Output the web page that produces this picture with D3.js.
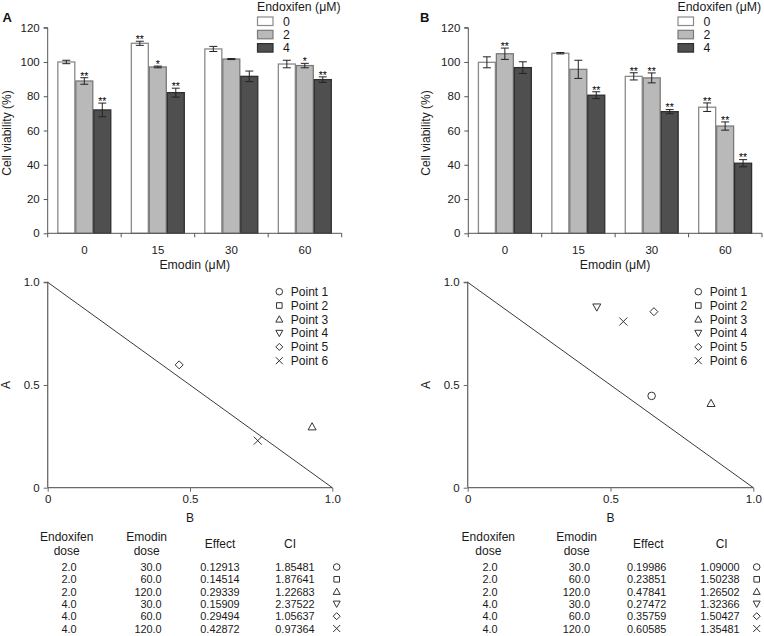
<!DOCTYPE html>
<html><head><meta charset="utf-8">
<script src="https://cdn.jsdelivr.net/npm/d3@7"></script>
<style>
body{margin:0;background:#fff;}
svg{display:block;font-family:"Liberation Sans",Arial,sans-serif;}
</style></head>
<body>
<svg id="c" width="764" height="636"></svg>
<script>
// ---------- data ----------
const groups = ["0", "15", "30", "60"];          // Emodin (μM)
const series = ["0", "2", "4"];                  // Endoxifen (μM)
const yTicks = [0, 20, 40, 60, 80, 100, 120];
const meansA = [[100, 88.9, 72.0], [110.9, 97.1, 82.1], [107.6, 101.7, 91.6], [98.8, 97.9, 89.7]];
const errA   = [[1.0, 1.9, 4.0], [1.2, 0.5, 2.6], [1.5, 0.3, 3.1], [2.2, 1.3, 1.6]];
const starsA = [["", "**", "**"], ["**", "*", "**"], ["", "", ""], ["", "*", "**"]];
const meansB = [[99.8, 104.8, 96.7], [105.1, 95.7, 80.6], [91.6, 90.7, 71.0], [73.6, 62.6, 40.9]];
const errB   = [[3.2, 3.3, 3.4], [0.4, 5.3, 2.0], [2.1, 2.9, 1.2], [2.5, 2.4, 2.1]];
const starsB = [["", "**", ""], ["", "", "**"], ["**", "**", "**"], ["**", "**", "**"]];

const isoTicks = [0, 0.5, 1.0];
const isoTickLabels = ["0", "0.5", "1.0"];
const pointNames = ["Point 1", "Point 2", "Point 3", "Point 4", "Point 5", "Point 6"];
// visible points: [point index, B, A]
const isoA = [[4, 0.462, 0.598], [2, 0.929, 0.297], [5, 0.738, 0.229]];
const isoB = [[3, 0.452, 0.879], [5, 0.545, 0.809], [4, 0.652, 0.857], [0, 0.644, 0.447], [2, 0.852, 0.411]];

const endoDose = ["2.0", "2.0", "2.0", "4.0", "4.0", "4.0"];
const emoDose = ["30.0", "60.0", "120.0", "30.0", "60.0", "120.0"];
const effectA = ["0.12913", "0.14514", "0.29339", "0.15909", "0.29494", "0.42872"];
const ciA = ["1.85481", "1.87641", "1.22683", "2.37522", "1.05637", "0.97364"];
const effectB = ["0.19986", "0.23851", "0.47841", "0.27472", "0.35759", "0.60585"];
const ciB = ["1.09000", "1.50238", "1.26502", "1.32366", "1.50427", "1.35481"];

// ---------- styles ----------
const fills = ["#ffffff", "#b9b9b9", "#4f4f4f"];
const strokes = ["#8a8a8a", "#7a7a7a", "#2e2e2e"];
const axisCol = "#555";
const txt = "#1a1a1a";

const svg = d3.select("#c");

function symbolPath(i, size) {
  const h = size / 2;
  switch (i) {
    case 0: return d3.symbol().type(d3.symbolCircle).size(size * size * 0.7)();
    case 1: return `M${-h*0.8},${-h*0.8}H${h*0.8}V${h*0.8}H${-h*0.8}Z`;
    case 2: return `M0,${-h}L${h},${h*0.8}L${-h},${h*0.8}Z`;
    case 3: return `M0,${h}L${h},${-h*0.8}L${-h},${-h*0.8}Z`;
    case 4: return `M0,${-h}L${h},0L0,${h}L${-h},0Z`;
    case 5: return `M${-h},${-h}L${h},${h}M${h},${-h}L${-h},${h}`;
  }
}

function barPanel(x0, x1, means, errs, stars, letter, letterX, legX, ylabX) {
  const y = d3.scaleLinear().domain([0, 120]).range([233.3, 27.7]);
  const xg = d3.scaleBand().domain(groups).range([x0, x1]).padding(0);
  const bw = xg.bandwidth();
  const xs = d3.scaleBand().domain(series).range([bw * 0.131, bw * 0.865]).padding(0);
  const g = svg.append("g");
  const starG = svg.append("g").attr("opacity", 0.995);

  groups.forEach((gr, gi) => {
    series.forEach((s, si) => {
      const v = means[gi][si], e = errs[gi][si];
      const bx = xg(gr) + xs(s);
      g.append("rect").attr("x", bx + 0.5).attr("y", y(v))
        .attr("width", xs.bandwidth() - 1).attr("height", y(0) - y(v))
        .attr("fill", fills[si]).attr("stroke", strokes[si]).attr("stroke-width", 1.3);
      const cx = bx + xs.bandwidth() / 2;
      const ey1 = y(v + e), ey2 = y(v - e);
      g.append("path").attr("d", `M${cx},${ey1}V${ey2}M${cx-4},${ey1}H${cx+4}M${cx-4},${ey2}H${cx+4}`)
        .attr("stroke", "#222").attr("stroke-width", 1).attr("fill", "none");
      if (stars[gi][si]) {
        starG.append("text").attr("x", cx).attr("y", ey1 + 1.8).attr("text-anchor", "middle")
          .attr("font-size", 10.5).attr("fill", "#000").text(stars[gi][si]);
      }
    });
  });

  const ya = d3.axisLeft(y).tickValues(yTicks).tickSize(4).tickPadding(4);
  const yg = g.append("g").attr("transform", `translate(${x0},0)`).call(ya);
  yg.select(".domain").attr("stroke", axisCol).attr("d", `M-4,${y(120)}H0V${y(0)}`);
  yg.selectAll(".tick line").attr("stroke", axisCol);
  yg.selectAll("text").attr("font-size", 11.5).attr("font-family", "Liberation Sans, Arial").attr("fill", txt);

  g.append("line").attr("x1", x0).attr("x2", x1).attr("y1", y(0)).attr("y2", y(0)).attr("stroke", axisCol);
  const bounds = groups.map(gr => xg(gr)).concat([x1]);
  bounds.forEach(b => g.append("line").attr("x1", b).attr("x2", b).attr("y1", y(0)).attr("y2", y(0) + 4).attr("stroke", axisCol));
  groups.forEach(gr => g.append("text").attr("x", xg(gr) + bw / 2).attr("y", 253.5)
    .attr("text-anchor", "middle").attr("font-size", 11.5).attr("fill", txt).text(gr));
  g.append("text").attr("x", (x0 + x1) / 2).attr("y", 269).attr("text-anchor", "middle")
    .attr("font-size", 12.3).attr("fill", txt).text("Emodin (\u03bcM)");
  g.append("text").attr("transform", `translate(${ylabX},133) rotate(-90)`).attr("text-anchor", "middle")
    .attr("font-size", 12).attr("fill", txt).text("Cell viability (%)");
  g.append("text").attr("x", letterX).attr("y", 22).attr("font-size", 13)
    .attr("font-weight", "bold").attr("fill", "#111").text(letter);

  g.append("text").attr("x", legX).attr("y", 10.5).attr("font-size", 12.3).attr("fill", txt).text("Endoxifen (\u03bcM)");
  series.forEach((s, si) => {
    const ly = 17 + si * 13.3;
    g.append("rect").attr("x", legX + 0.5).attr("y", ly).attr("width", 15.5).attr("height", 8.5)
      .attr("fill", fills[si]).attr("stroke", strokes[si]).attr("stroke-width", 1.2);
    g.append("text").attr("x", legX + 26).attr("y", ly + 8.7).attr("font-size", 12.3).attr("fill", txt).text(s);
  });
}

function isoPanel(x0, x1, pts, ylabX, legX) {
  const x = d3.scaleLinear().domain([0, 1]).range([x0, x1]);
  const y = d3.scaleLinear().domain([0, 1]).range([487.7, 282.3]);
  const g = svg.append("g");
  const xa = d3.axisBottom(x).tickValues(isoTicks).tickFormat((d, i) => isoTickLabels[i]).tickSize(4).tickPadding(3);
  const xgA = g.append("g").attr("transform", `translate(0,${y(0)})`).call(xa);
  const ya = d3.axisLeft(y).tickValues(isoTicks).tickFormat((d, i) => isoTickLabels[i]).tickSize(4).tickPadding(4);
  const ygA = g.append("g").attr("transform", `translate(${x0},0)`).call(ya);
  [xgA, ygA].forEach(a => {
    a.select(".domain").attr("stroke", "#6a6a6a").attr("stroke-width", 1.3);
    a.selectAll(".tick line").attr("stroke", "#6a6a6a");
    a.selectAll("text").attr("font-size", 11.5).attr("font-family", "Liberation Sans, Arial").attr("fill", txt);
  });
  xgA.select(".domain").attr("d", `M${x0},0H${x1}`);
  ygA.select(".domain").attr("d", `M-4,${y(1)}H0V${y(0)}`);
  g.append("line").attr("x1", x(0)).attr("y1", y(1)).attr("x2", x(1)).attr("y2", y(0))
    .attr("stroke", "#222").attr("stroke-width", 0.9);
  pts.forEach(p => {
    g.append("path").attr("transform", `translate(${x(p[1])},${y(p[2])})`).attr("d", symbolPath(p[0], 8))
      .attr("fill", "none").attr("stroke", "#333").attr("stroke-width", 1);
  });
  g.append("text").attr("x", (x0 + x1) / 2).attr("y", 522).attr("text-anchor", "middle")
    .attr("font-size", 12).attr("fill", txt).text("B");
  g.append("text").attr("transform", `translate(${ylabX},385) rotate(-90)`).attr("text-anchor", "middle")
    .attr("font-size", 12).attr("fill", txt).text("A");
  pointNames.forEach((n, i) => {
    const ly = 291.7 + i * 13.8;
    g.append("path").attr("transform", `translate(${legX},${ly})`).attr("d", symbolPath(i, 7))
      .attr("fill", "none").attr("stroke", "#333").attr("stroke-width", 1);
    g.append("text").attr("x", legX + 11.5).attr("y", ly + 4.2).attr("font-size", 12).attr("fill", txt).text(n);
  });
}

function table(cols, effect, ci) {
  const g = svg.append("g");
  const t = (x, y, s, anchor, fs) => g.append("text").attr("x", x).attr("y", y).attr("text-anchor", anchor || "middle")
    .attr("font-size", fs || 12).attr("fill", txt).text(s);
  t(cols[0], 541, "Endoxifen"); t(cols[0], 555, "dose");
  t(cols[1], 541, "Emodin"); t(cols[1], 555, "dose");
  t(cols[2], 548, "Effect"); t(cols[3], 548, "CI");
  endoDose.forEach((d, i) => {
    const yy = 571 + i * 12.3;
    t(cols[4], yy, d, "middle", 10.9);
    t(cols[5], yy, emoDose[i], "end", 10.9);
    t(cols[6], yy, effect[i], "middle", 10.9);
    t(cols[7], yy, ci[i], "middle", 10.9);
    g.append("path").attr("transform", `translate(${cols[8]},${yy - 4})`).attr("d", symbolPath(i, 7))
      .attr("fill", "none").attr("stroke", "#333").attr("stroke-width", 1);
  });
}

barPanel(47.7, 341.7, meansA, errA, starsA, "A", 2.5, 257, 11);
barPanel(468.3, 762, meansB, errB, starsB, "B", 420, 677.5, 430);
isoPanel(47.7, 332.3, isoA, 10, 279.3);
isoPanel(467.7, 753.3, isoB, 430, 698.3);
table([66.7, 146.7, 220, 290, 69, 161.7, 220, 295, 336.7], effectA, ciA);
table([488.3, 576.7, 648.3, 721.7, 490, 590, 646.7, 720, 756.7], effectB, ciB);
</script>
</body></html>
